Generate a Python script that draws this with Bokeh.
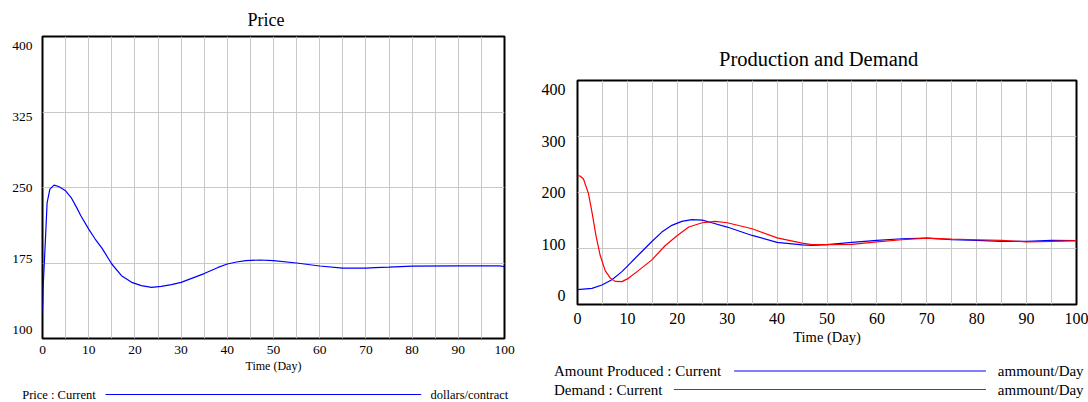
from bokeh.plotting import figure
from bokeh.layouts import row, column
from bokeh.models import Range1d, FixedTicker, CustomJSTickFormatter
from bokeh.embed import file_html
from bokeh.resources import INLINE
from bokeh.core.properties import value

FONT = "Liberation Serif"
GRID = "#c8c8c8"

# ---------------- data ----------------
price_time = [0, 0.15, 0.6, 1, 1.6, 2.5, 3.5, 5, 6.2, 7.4, 8.3, 10, 11.4, 12.9, 15,
              17.1, 19.3, 21.4, 23.6, 25.7, 27.9, 30, 35, 38, 40, 42, 44, 47, 50, 55,
              60, 65, 70, 72, 75, 80, 90, 99, 100]
price_values = [127.7, 152, 195, 235, 248.4, 252.4, 251, 246.7, 240, 230, 222, 208.7,
                198.8, 189.5, 174, 162.4, 155.8, 152.5, 150.8, 151.8, 153.5, 155.8,
                164.5, 170.6, 174, 176, 177.3, 178, 177.3, 175, 172, 169.9, 169.9,
                170.5, 171, 171.9, 172.2, 172.2, 171.3]

produced_time = [0, 2.9, 4.9, 6.9, 8.9, 10.9, 12.9, 14.9, 16.9, 18.9, 20.9, 22.9, 25,
                 26.9, 30, 35, 40, 45, 47, 50, 55, 60, 65, 70, 75, 80, 85, 90, 95, 100]
produced_values = [26.4, 28.7, 34.8, 44.3, 58.7, 76.7, 94.6, 112.5, 129.3, 141.3, 148.5,
                   151.5, 150.8, 146, 138.3, 123.3, 111, 106.6, 105.4, 107, 110.8,
                   114.4, 117.4, 118.5, 115.6, 114.4, 112.7, 112.7, 114.4, 114]

demand_time = [0, 0.5, 1.2, 2.2, 2.9, 3.7, 4.55, 5.55, 6.55, 7.55, 8.9, 10.2, 12.2,
               14.9, 17.6, 20, 22.3, 25, 27.6, 30, 35, 40, 45, 47, 50, 55, 60, 65, 70,
               75, 80, 85, 90, 95, 100]
demand_values = [230, 229.5, 224, 198, 165, 123, 87.4, 60.5, 47.4, 41.3, 40.8, 46.7,
                 60.5, 79.7, 105.4, 123.3, 138.3, 146, 148.5, 146, 135.3, 119, 109.5,
                 107, 107, 107.5, 112, 115.6, 118.5, 116.6, 115.6, 114.4, 112, 112.7,
                 114]

x_ticks = [0, 10, 20, 30, 40, 50, 60, 70, 80, 90, 100]
x_grid = list(range(0, 101, 5))
price_y_ticks = [100, 175, 250, 325, 400]
pd_y_ticks = [0, 100, 200, 300, 400]

price_title = "Price"
pd_title = "Production and Demand"
x_label = "Time (Day)"
price_legend = [("Price : Current", "blue", "dollars/contract")]
pd_legend = [("Amount Produced : Current", "blue", "ammount/Day"),
             ("Demand : Current", "red", "ammount/Day")]


def make_chart(title, yticks, fw, fh, borders, fs, title_offset, title_standoff,
               ystandoff, xstandoff):
    lo, hi = yticks[0], yticks[-1]
    span = hi - lo
    pad = 9 * span / fh
    label_pos = [lo + pad + (t - lo) * (span - 2 * pad) / span for t in yticks]
    p = figure(frame_width=fw, frame_height=fh,
               x_range=Range1d(0, 100), y_range=Range1d(lo, hi),
               output_backend="svg", toolbar_location=None,
               min_border_left=borders[0], min_border_right=borders[1],
               min_border_top=borders[2], min_border_bottom=borders[3])
    p.background_fill_color = "white"
    p.border_fill_color = "white"
    p.outline_line_color = "black"
    p.outline_line_width = 2
    p.title.text = title
    p.title.align = "left"
    p.title.offset = title_offset
    p.title.standoff = title_standoff
    p.title.text_font = FONT
    p.title.text_font_style = "normal"
    p.title.text_font_size = fs["title"]
    p.title.text_color = "black"

    p.xaxis.ticker = FixedTicker(ticks=x_ticks)
    p.xaxis.axis_label = x_label
    p.xaxis.axis_label_text_font = FONT
    p.xaxis.axis_label_text_font_style = "normal"
    p.xaxis.axis_label_text_font_size = fs["axis"]
    p.xaxis.axis_label_standoff = 2
    p.xaxis.major_label_standoff = xstandoff

    p.yaxis.ticker = FixedTicker(ticks=label_pos)
    p.yaxis.formatter = CustomJSTickFormatter(
        args=dict(lo=lo, span=span, pad=pad),
        code="return String(Math.round(lo + (tick - lo - pad) * span / (span - 2 * pad)));")
    p.yaxis.major_label_standoff = ystandoff

    for ax in (p.xaxis, p.yaxis):
        ax.axis_line_color = None
        ax.major_tick_line_color = None
        ax.minor_tick_line_color = None
        ax.major_tick_out = 0
        ax.major_tick_in = 0
        ax.minor_tick_out = 0
        ax.minor_tick_in = 0
        ax.major_label_text_font = FONT
        ax.major_label_text_font_size = fs["tick"]
        ax.major_label_text_color = "black"
        ax.axis_label_text_color = "black"

    p.xgrid.ticker = FixedTicker(ticks=x_grid)
    p.ygrid.ticker = FixedTicker(ticks=yticks[1:-1])
    p.xgrid.grid_line_color = GRID
    p.ygrid.grid_line_color = GRID
    p.xgrid.grid_line_width = 1
    p.ygrid.grid_line_width = 1
    return p


def make_legend(items, col_x, top_y, w, h, rows_y, text_x, line_spans, unit_x, fsize):
    # legend panel whose data coordinates are page pixels
    lg = figure(frame_width=w, frame_height=h,
                x_range=Range1d(col_x, col_x + w), y_range=Range1d(top_y + h, top_y),
                output_backend="svg", toolbar_location=None,
                x_axis_type=None, y_axis_type=None, min_border=0,
                min_border_left=0, min_border_right=0,
                min_border_top=0, min_border_bottom=0)
    lg.outline_line_color = None
    lg.xgrid.visible = False
    lg.ygrid.visible = False
    lg.background_fill_color = "white"
    lg.border_fill_color = "white"
    for (label, color, unit), y, (xa, xb) in zip(items, rows_y, line_spans):
        lg.text(x=[text_x], y=[y], text=[label], text_font=value(FONT),
                text_font_size=value(fsize), text_baseline="middle",
                text_align="left", text_color="black")
        lg.line(x=[xa, xb], y=[y, y], line_color=color, line_width=1.2)
        lg.text(x=[unit_x], y=[y], text=[unit], text_font=value(FONT),
                text_font_size=value(fsize), text_baseline="middle",
                text_align="left", text_color="black")
    return lg


# ---------------- left chart ----------------
left_fs = dict(title="18px", tick="13.5px", axis="12px")
left_borders = (42, 24, 36, 42)
p1 = make_chart(price_title, price_y_ticks, 462, 302, left_borders, left_fs,
                205, 14, 10, 7)
p1.line(price_time, price_values, line_color="blue", line_width=1.2)
lg1 = make_legend(price_legend, 0, 380, 528, 22, [394], 21.7,
                  [(105, 420.7)], 430, "12.5px")

# ---------------- right chart ----------------
right_fs = dict(title="20.5px", tick="16px", axis="14.5px")
right_borders = (49, 12, 80, 51)
p2 = make_chart(pd_title, pd_y_ticks, 499, 224, right_borders, right_fs,
                141.5, 21, 12, 8)
p2.line(produced_time, produced_values, line_color="blue", line_width=1.2)
p2.line(demand_time, demand_values, line_color="red", line_width=1.2)
lg2 = make_legend(pd_legend, 528, 355, 560, 47, [370.5, 389], 553.5,
                  [(733.6, 985.5), (673.4, 985.5)], 997.3, "15px")

layout = row(column(p1, row(lg1)), column(p2, row(lg2)))

open("out.html", "w").write(file_html(layout, INLINE))
